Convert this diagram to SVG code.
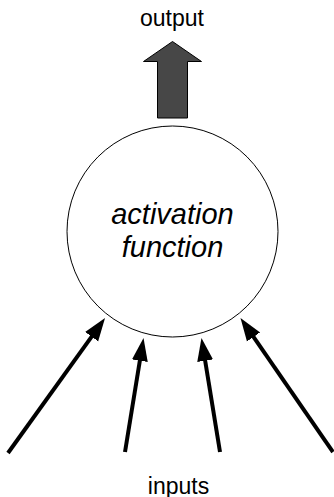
<svg xmlns="http://www.w3.org/2000/svg" width="334" height="497" viewBox="0 0 334 497">
<style>
.lbl{font-family:"Liberation Sans",Arial,sans-serif;font-size:23px;fill:#000;text-anchor:middle}
.fn{font-family:"Liberation Sans",Arial,sans-serif;font-size:29px;font-style:italic;fill:#000;text-anchor:middle}
.in{stroke:#000;stroke-width:4;fill:none;marker-end:url(#ah)}
</style>
<defs>
<marker id="ah" markerUnits="userSpaceOnUse" markerWidth="24" markerHeight="18" viewBox="0 0 24 18" refX="1" refY="9" orient="auto">
<path d="M0,1 L23,9 L0,17 z" fill="#000"/>
</marker>
</defs>
<rect width="334" height="497" fill="#fff"/>
<g id="output">
<text class="lbl" x="172" y="26">output</text>
<polygon points="157.5,118 157.5,61.5 143.5,61.5 172.5,41.5 201.5,61.5 187.5,61.5 187.5,118" fill="#474747" stroke="#000" stroke-width="1"/>
</g>
<g id="activation">
<circle cx="172.5" cy="231.5" r="105.5" fill="#fff" stroke="#000" stroke-width="1"/>
<text class="fn" x="172.5" y="224">activation</text>
<text class="fn" x="172.5" y="257">function</text>
</g>
<g id="inputs">
<text class="lbl" x="178.5" y="494">inputs</text>
</g>
<g id="connectors">
<line class="in" x1="8" y1="453" x2="92.2" y2="335.9"/>
<line class="in" x1="125" y1="452" x2="140" y2="359.7"/>
<line class="in" x1="220" y1="452" x2="205" y2="359.7"/>
<line class="in" x1="333" y1="452" x2="253" y2="336.1"/>
</g>
</svg>
